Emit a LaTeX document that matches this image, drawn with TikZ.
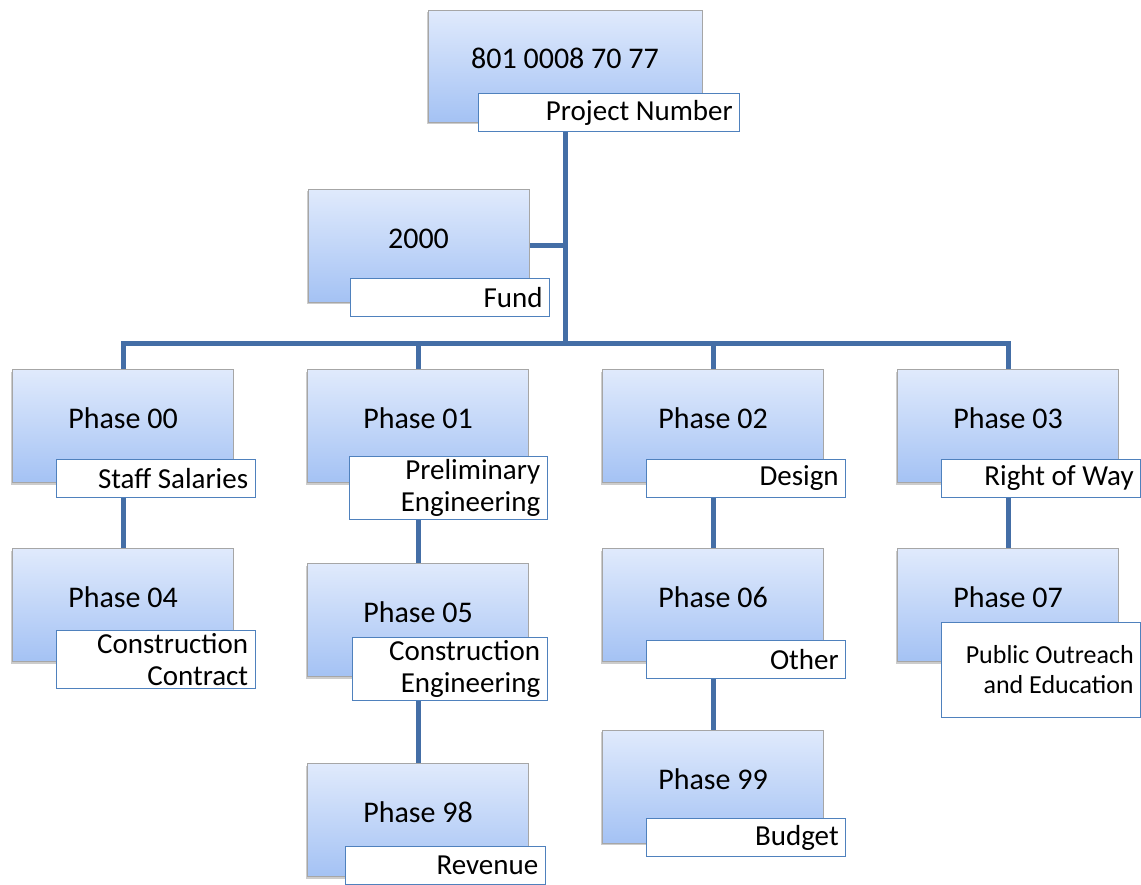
\documentclass[tikz,border=0pt]{standalone}
\usepackage{fontspec}
\setmainfont{Carlito}
\usetikzlibrary{positioning,shadows,backgrounds}

\definecolor{boxtop}{RGB}{224,234,252}
\definecolor{boxbot}{RGB}{164,194,244}
\definecolor{tagline}{RGB}{79,129,189}
\definecolor{linkblue}{RGB}{68,110,166}

\tikzset{
  phase/.style={draw=gray!70, top color=boxtop, bottom color=boxbot,
    minimum width=221pt, minimum height=113pt, inner sep=0pt,
    font=\fontsize{30}{34}\selectfont, text height=20pt, text depth=15pt,
    drop shadow={shadow xshift=-1.5pt, shadow yshift=-2pt, opacity=0.4}},
  tag/.style={draw=tagline, line width=1pt, fill=white, anchor=north east,
    minimum height=38pt, text width=185pt, align=flush right, inner xsep=7pt,
    inner ysep=3pt, font=\fontsize{29}{32}\selectfont},
  link/.style={draw=linkblue, line width=5pt}
}

\begin{document}
\begin{tikzpicture}[x=1pt,y=1pt]
\useasboundingbox (0,0) rectangle (1141,-884);

% project and fund
\node[phase, minimum width=274pt, minimum height=112pt] (num) at (565,-66) {801 0008 70 77};
\node[tag, text width=247pt] (numtag) at ([xshift=38pt,yshift=29pt]num.south east) {Project Number};
\node[phase] (fund) at (418.5,-245.5) {2000};
\node[tag] (fundtag) at ([xshift=21pt,yshift=24pt]fund.south east) {Fund};

% first row of phases
\node[phase] (p00) at (123,-426) {Phase 00};
\node[tag] (p00tag) at ([xshift=22pt,yshift=24pt]p00.south east) {Staff Salaries};
\node[phase] (p01) at (418,-426) {Phase 01};
\node[tag, text width=184pt] (p01tag) at ([xshift=19pt,yshift=27pt]p01.south east) {Preliminary\\Engineering};
\node[phase] (p02) at (713,-426) {Phase 02};
\node[tag] (p02tag) at ([xshift=22.5pt,yshift=24pt]p02.south east) {Design};
\node[phase] (p03) at (1008,-426) {Phase 03};
\node[tag] (p03tag) at ([xshift=22.5pt,yshift=24pt]p03.south east) {Right of Way};

% second row
\node[phase] (p04) at (123,-605) {Phase 04};
\node[tag] (p04tag) at ([xshift=22pt,yshift=32pt]p04.south east) {Construction\\Contract};
\node[phase] (p05) at (418,-620) {Phase 05};
\node[tag, text width=181pt] (p05tag) at ([xshift=19pt,yshift=40pt]p05.south east) {Construction\\Engineering};
\node[phase] (p06) at (713,-605) {Phase 06};
\node[tag] (p06tag) at ([xshift=22.5pt,yshift=22pt]p06.south east) {Other};
\node[phase] (p07) at (1008,-605) {Phase 07};
\node[tag, minimum height=95pt, font=\fontsize{26}{30}\selectfont] (p07tag) at ([xshift=22.5pt,yshift=40pt]p07.south east) {Public Outreach\\and Education};

% third row
\node[phase] (p98) at (418,-820) {Phase 98};
\node[tag, text width=186pt] (p98tag) at ([xshift=17pt,yshift=31pt]p98.south east) {Revenue};
\node[phase] (p99) at (713,-786.5) {Phase 99};
\node[tag] (p99tag) at ([xshift=22.5pt,yshift=25pt]p99.south east) {Budget};

% connectors
\begin{scope}[on background layer]
\coordinate (bus) at (565,-343);
\draw[link] (num) -- (num |- bus);
\draw[link] (fund.east) -- (fund.east -| num);
\draw[link] (p00) -- (p00 |- bus) -- (p03 |- bus) -- (p03);
\draw[link] (p01 |- bus) -- (p01);
\draw[link] (p02 |- bus) -- (p02);
\draw[link] (p00) -- (p04);
\draw[link] (p01) -- (p05) -- (p98);
\draw[link] (p02) -- (p06) -- (p99);
\draw[link] (p03) -- (p07);
\end{scope}

\end{tikzpicture}
\end{document}
